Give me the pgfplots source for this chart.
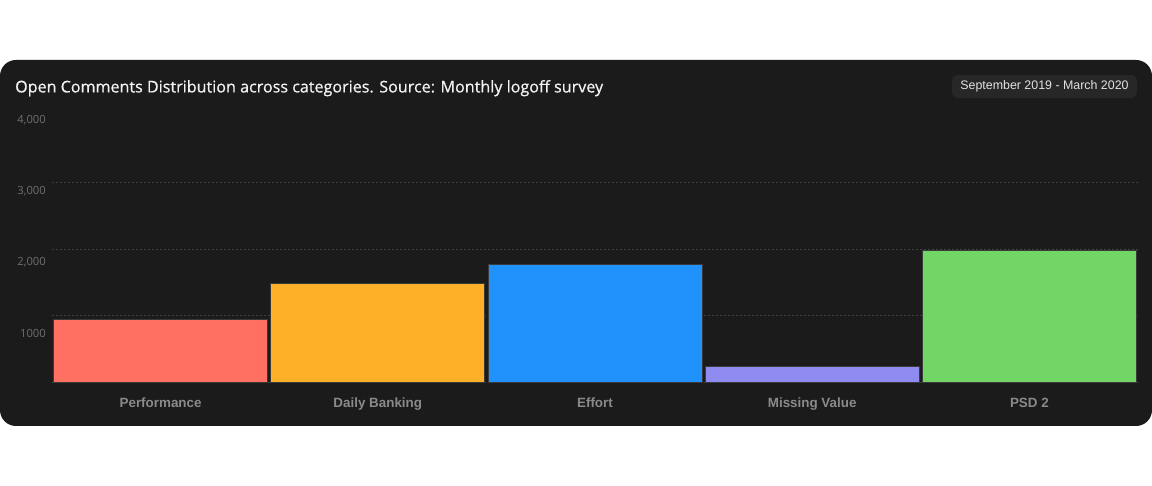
\documentclass[border=0pt]{standalone}
\usepackage{fontspec}
\setmainfont{Open Sans}
\newfontfamily\titlefont{Open Sans}[FakeBold=0.6]
\newfontfamily\labelfont{Liberation Sans}
\usepackage{pgfplots}
\pgfplotsset{compat=1.18}

\definecolor{card}{HTML}{1B1B1B}
\definecolor{badge}{HTML}{272727}
\definecolor{badgetext}{HTML}{E2E2E2}
\definecolor{titletext}{HTML}{F2F2F2}
\definecolor{ticktext}{HTML}{6E6E6E}
\definecolor{cattext}{HTML}{8A8A8A}
\definecolor{gridcol}{HTML}{3E3E3E}
\definecolor{baredge}{HTML}{3A3A3A}
\definecolor{cPerf}{HTML}{FF7062}
\definecolor{cBank}{HTML}{FDB028}
\definecolor{cEffort}{HTML}{2191FB}
\definecolor{cMissing}{HTML}{908BF0}
\definecolor{cPSD}{HTML}{72D666}

\begin{document}
\begin{tikzpicture}[x=1pt,y=1pt]
% page and card
\fill[white] (0,0) rectangle (1152,486);
\fill[card, rounded corners=16pt] (0,60) rectangle (1152,426);
% title and period badge
\node[anchor=west, inner sep=0pt, text=titletext, font=\titlefont\fontsize{16.1}{19}\selectfont]
  at (15,397.8) {Open Comments Distribution across categories. Source: Monthly logoff survey};
\fill[badge, rounded corners=6pt] (952,388) rectangle (1137,411);
\node[inner sep=0pt, text=badgetext, font=\labelfont\fontsize{12.4}{14}\selectfont]
  at (1044.5,399.5) {September 2019 - March 2020};

\begin{axis}[
  at={(52pt,103.7pt)}, anchor=south west,
  scale only axis, width=1086pt, height=266pt,
  xmin=-0.5, xmax=4.5, ymin=0, ymax=4000,
  axis line style={draw=none},
  major tick length=0pt,
  xtick={0,1,2,3,4},
  xticklabels={Performance, Daily Banking, Effort, Missing Value, PSD 2},
  xticklabel style={anchor=base, inner sep=0pt, yshift=-24.8pt, text=cattext,
    font=\labelfont\bfseries\fontsize{13.4}{15}\selectfont},
  ytick={0,1000,2000,3000},
  yticklabels={},
  ymajorgrids,
  grid style={gridcol, line width=0.8pt, dash pattern=on 2pt off 2pt},
  extra y ticks={741,1808,2877,3944},
  extra y tick labels={1000,{2,000},{3,000},{4,000}},
  extra y tick style={grid=none},
  yticklabel style={anchor=east, inner sep=0pt, xshift=-6pt, text=ticktext,
    font=\fontsize{11.2}{13}\selectfont},
]
\addplot[ybar, bar width=214pt, bar shift=0pt, fill=cPerf, draw=baredge, line width=0.8pt]
  coordinates {(0,947)};
\addplot[ybar, bar width=214pt, bar shift=0pt, fill=cBank, draw=baredge, line width=0.8pt]
  coordinates {(1,1489)};
\addplot[ybar, bar width=214pt, bar shift=0pt, fill=cEffort, draw=baredge, line width=0.8pt]
  coordinates {(2,1779)};
\addplot[ybar, bar width=214pt, bar shift=0pt, fill=cMissing, draw=baredge, line width=0.8pt]
  coordinates {(3,235)};
\addplot[ybar, bar width=214pt, bar shift=0pt, fill=cPSD, draw=baredge, line width=0.8pt]
  coordinates {(4,1979)};
\end{axis}

\pgfresetboundingbox
\useasboundingbox (0,0) rectangle (1152,486);
\end{tikzpicture}
\end{document}
